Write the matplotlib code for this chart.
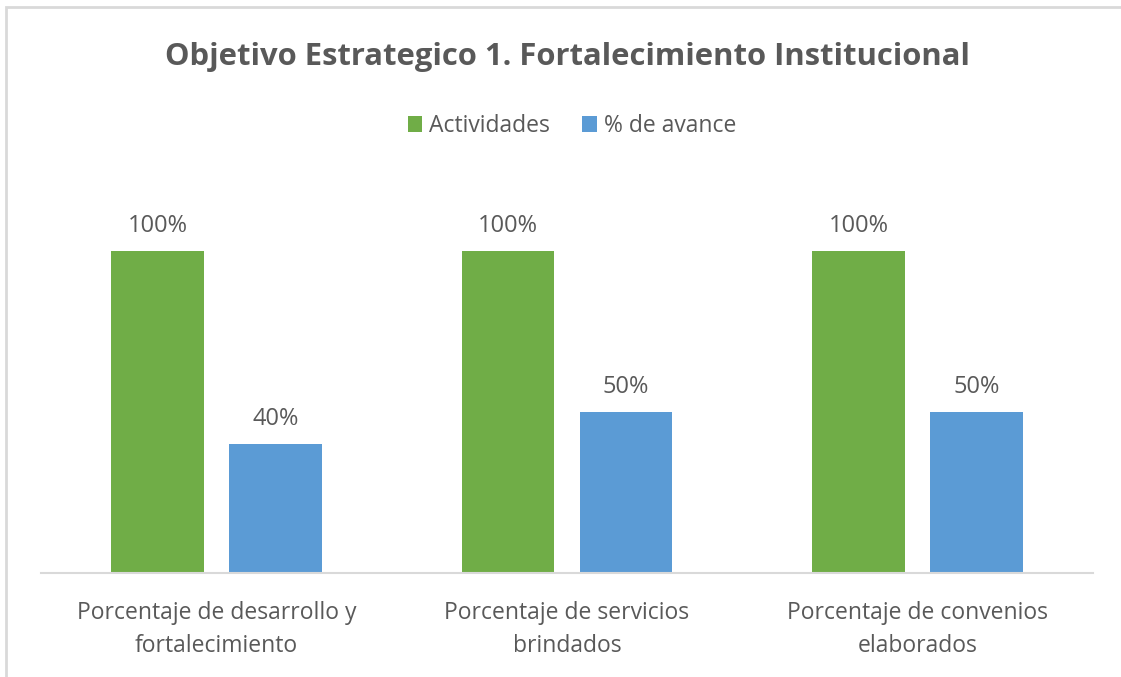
import matplotlib
matplotlib.use("Agg")
import matplotlib.pyplot as plt
import numpy as np
from matplotlib.patches import Rectangle

categories = ["Porcentaje de desarrollo y\nfortalecimiento",
              "Porcentaje de servicios\nbrindados",
              "Porcentaje de convenios\nelaborados"]
actividades = [1.0, 1.0, 1.0]
avance = [0.4, 0.5, 0.5]
series_names = ["Actividades", "% de avance"]
title = "Objetivo Estrategico 1. Fortalecimiento Institucional"

GREEN = "#70AD47"
BLUE = "#5B9BD5"
TXT = "#595959"

plt.rcParams['font.family'] = ['Open Sans', 'DejaVu Sans']

W, H = 1121, 677
fig = plt.figure(figsize=(W / 100, H / 100), dpi=100)

# chart border (cropped on right/bottom)
fig.add_artist(Rectangle((6 / W, -0.1), 1.2, (H - 7) / H + 0.1, transform=fig.transFigure,
                         fill=False, edgecolor="#D9D9D9", linewidth=2))

ax_l, ax_r = 41, 1093
ax_b, ax_t = 573, 187
ax = fig.add_axes([ax_l / W, 1 - ax_b / H, (ax_r - ax_l) / W, (ax_b - ax_t) / H])

x = np.arange(len(categories))
bw = 0.265
off = bw / 2 + 0.0357
b1 = ax.bar(x - off, actividades, bw, color=GREEN, label=series_names[0])
b2 = ax.bar(x + off, avance, bw, color=BLUE, label=series_names[1])

for bars, vals in ((b1, actividades), (b2, avance)):
    for r, v in zip(bars, vals):
        ax.annotate(f"{v:.0%}", (r.get_x() + r.get_width() / 2, v), xytext=(0, 14),
                    textcoords="offset points", ha="center", va="baseline",
                    fontsize=17, color=TXT)

ax.set_xlim(-0.5, len(categories) - 0.5)
ax.set_ylim(0, 1.2)
ax.set_yticks([])
ax.set_xticks(x)
ax.set_xticklabels(categories, fontsize=16.5, color=TXT, linespacing=1.5)
ax.tick_params(axis="x", length=0, pad=20)
for s in ("top", "right", "left"):
    ax.spines[s].set_visible(False)
ax.spines["bottom"].set_color("#D9D9D9")
ax.spines["bottom"].set_linewidth(1.5)

fig.text(567 / W, 1 - 57 / H, title, ha="center", va="center", fontsize=22.3,
         fontweight="bold", color=TXT)

leg = fig.legend(handles=[b1, b2], labels=series_names, loc="center",
                 bbox_to_anchor=(572 / W, 1 - 126 / H), ncol=2, frameon=False,
                 fontsize=16.5, handlelength=0.65, handleheight=0.65,
                 handletextpad=0.3, columnspacing=1.4)
for t in leg.get_texts():
    t.set_color(TXT)

fig.savefig("out.png", dpi=100)
